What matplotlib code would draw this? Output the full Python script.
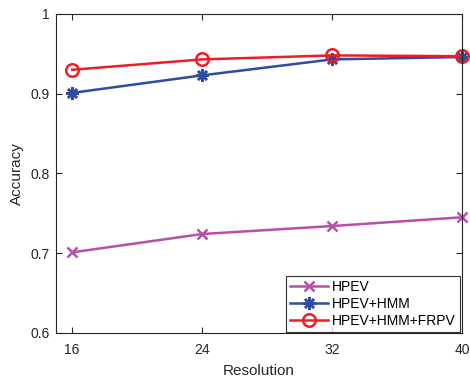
import matplotlib
matplotlib.use("Agg")
import matplotlib.pyplot as plt

plt.rcParams['font.family'] = ['Liberation Sans', 'DejaVu Sans']

resolution = [16, 24, 32, 40]
hpev = [0.701, 0.724, 0.734, 0.745]
hpev_hmm = [0.901, 0.923, 0.943, 0.946]
hpev_hmm_frpv = [0.930, 0.943, 0.948, 0.947]

fig = plt.figure(figsize=(4.7, 3.77), dpi=100)
ax = fig.add_axes([0.119, 0.117, 0.864, 0.846])

ax.plot(resolution, hpev, color="#B94FA8", marker="x", markersize=7, mew=1.8, lw=1.8, label="HPEV", clip_on=False)
ax.plot(resolution, hpev_hmm, color="#2F4BA3", marker=(8, 2, 0), markersize=9, mew=1.8, lw=1.8, label="HPEV+HMM", clip_on=False)
ax.plot(resolution, hpev_hmm_frpv, color="#EE1D24", marker="o", markersize=9, mfc="none", mew=1.8, lw=1.8, label="HPEV+HMM+FRPV", clip_on=False)

ax.set_xlim(15, 40)
ax.set_ylim(0.6, 1.0)
ax.set_xticks(resolution)
ax.set_yticks([0.6, 0.7, 0.8, 0.9, 1.0])
ax.set_yticklabels(["0.6", "0.7", "0.8", "0.9", "1"])
ax.tick_params(direction="in", top=True, right=True, labelsize=10, colors="#262626", length=4)
ax.tick_params(axis="x", pad=7.5)
ax.tick_params(axis="y", pad=4.5)
for s in ax.spines.values():
    s.set_color("#262626")
    s.set_linewidth(0.8)
ax.set_xlabel("Resolution", fontsize=11, color="#262626", labelpad=5)
ax.set_ylabel("Accuracy", fontsize=11, color="#262626", labelpad=5)

leg = ax.legend(loc="lower right", bbox_to_anchor=(0.995, 0.003), borderaxespad=0, fontsize=10,
                fancybox=False, edgecolor="black", handlelength=2.7, borderpad=0.3,
                labelspacing=0.2, handletextpad=0.3)
leg.get_frame().set_linewidth(0.8)

fig.savefig("out.png", dpi=100)
